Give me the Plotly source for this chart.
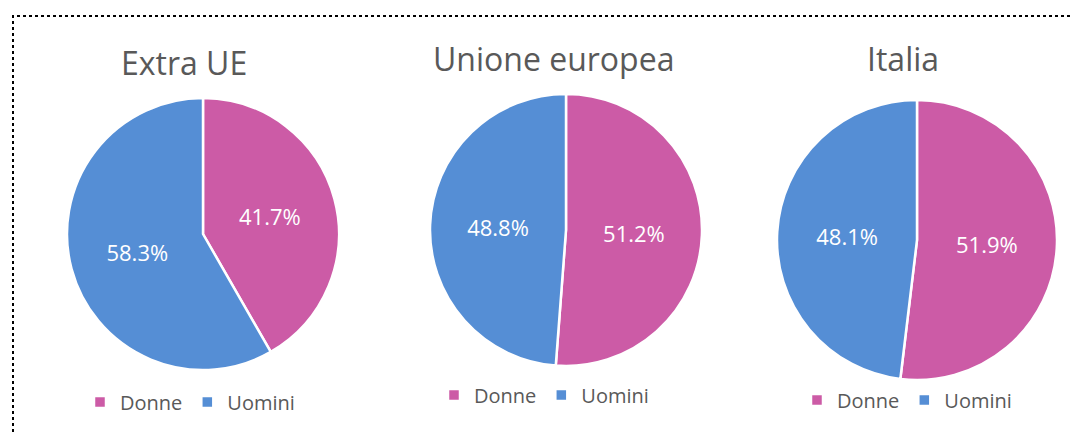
import plotly.graph_objects as go

# page has an 8px body margin; figure fills the rest of the window
OFF = 8
W, H = 1079 - OFF, 432 - OFF

titles = ["Extra UE", "Unione europea", "Italia"]
labels = ["Donne", "Uomini"]
donne = [41.7, 51.2, 51.9]
uomini = [58.3, 48.8, 48.1]
colors = ["#CC5BA6", "#558ED5"]

# pie centres and radii (page px)
centers = [(203, 234, 136), (566, 230, 136), (917, 240, 140)]
title_pos = [(184, 62), (553, 59), (903, 59)]
legend_pos = [(190, 402), (544, 395), (907, 400)]


def px(x):
    return (x - OFF) / W


def py(y):
    return (H - (y - OFF)) / H


fig = go.Figure()
for i in range(3):
    cx, cy, r = centers[i]
    fig.add_trace(go.Pie(
        labels=labels,
        values=[donne[i], uomini[i]],
        sort=False,
        direction="clockwise",
        rotation=0,
        marker=dict(colors=colors, line=dict(color="white", width=2.5)),
        texttemplate="%{percent:.1%}",
        textposition="inside",
        insidetextorientation="horizontal",
        textfont=dict(color="white", size=22, family="Open Sans"),
        hoverinfo="label+percent",
        domain=dict(x=[px(cx - r), px(cx + r)],
                    y=[py(cy + r), py(cy - r)]),
        legend="legend" if i == 0 else f"legend{i+1}",
        legendgroup=f"g{i+1}",
        showlegend=True,
    ))

layout = dict(
    width=W, height=H,
    margin=dict(l=0, r=0, t=0, b=0),
    paper_bgcolor="white",
    plot_bgcolor="white",
    font=dict(family="Open Sans", color="#595959"),
)
for i in range(3):
    lx, ly = legend_pos[i]
    key = "legend" if i == 0 else f"legend{i+1}"
    layout[key] = dict(
        orientation="h",
        traceorder="normal",
        x=px(lx), y=py(ly),
        xanchor="center", yanchor="middle",
        font=dict(size=20, color="#595959", family="Open Sans"),
        bgcolor="rgba(0,0,0,0)",
        itemclick=False,
    )
fig.update_layout(**layout)

for i in range(3):
    tx, ty = title_pos[i]
    fig.add_annotation(
        text=titles[i], x=px(tx), y=py(ty),
        xref="paper", yref="paper", xanchor="center", yanchor="middle",
        showarrow=False,
        font=dict(size=32, color="#595959", family="Open Sans"),
    )

# dotted frame (top and left)
fig.add_shape(type="path", xref="paper", yref="paper",
              path=f"M {px(13)},0 L {px(13)},{py(16)} L 1,{py(16)}",
              line=dict(color="black", width=2, dash="dot"))

fig.write_html("out.html")
